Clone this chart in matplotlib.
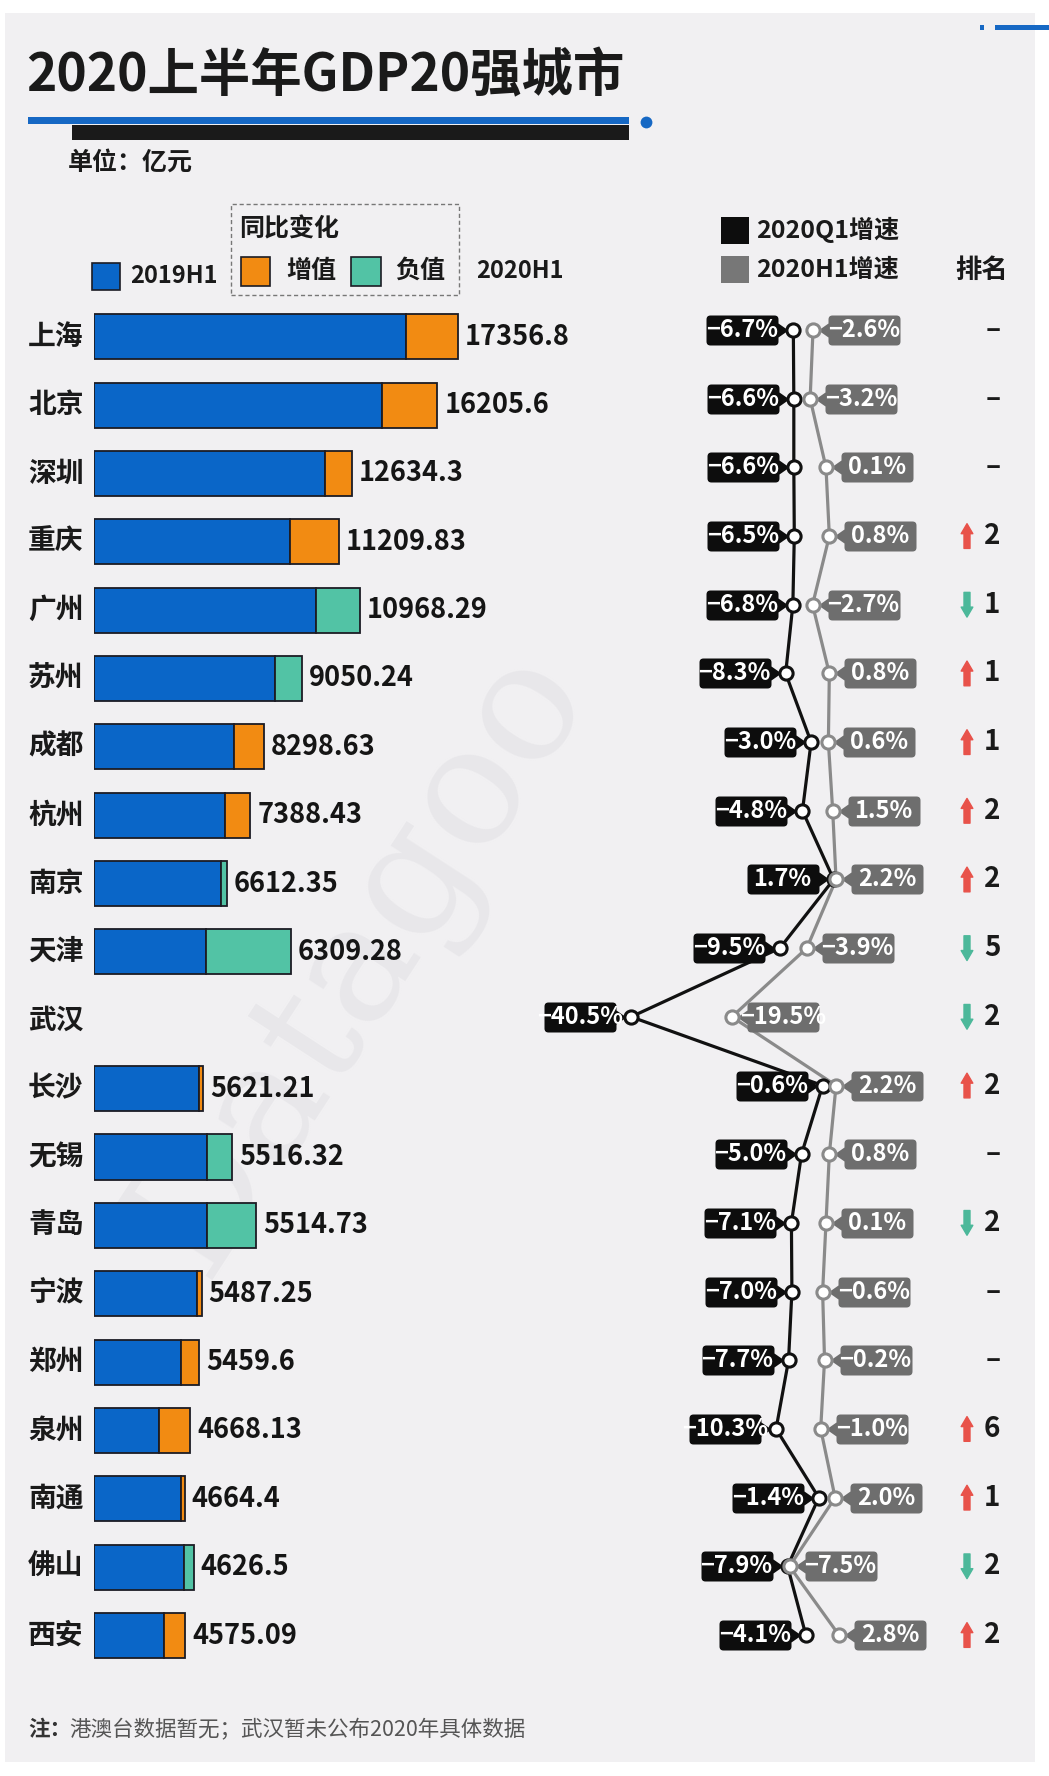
import numpy as np
import matplotlib.pyplot as plt
import matplotlib.transforms as mtransforms
from matplotlib.patches import Rectangle
from matplotlib.lines import Line2D
from matplotlib.path import Path

plt.rcParams['font.family'] = ['Noto Sans CJK SC', 'DejaVu Sans']

# ---- data ----
cities = ['上海', '北京', '深圳', '重庆', '广州', '苏州', '成都', '杭州', '南京', '天津',
          '武汉', '长沙', '无锡', '青岛', '宁波', '郑州', '泉州', '南通', '佛山', '西安']
gdp_2020h1 = [17356.8, 16205.6, 12634.3, 11209.83, 10968.29, 9050.24, 8298.63, 7388.43,
              6612.35, 6309.28, None, 5621.21, 5516.32, 5514.73, 5487.25, 5459.6,
              4668.13, 4664.4, 4626.5, 4575.09]
# bar lengths as drawn: blue part and year-on-year change (+ orange, - teal)
bar_blue = [14860, 13735, 10995, 9336, 10590, 8626, 6705, 6272, 6062, 5347,
            0, 5013, 5414, 5414, 4904, 4137, 3098, 4156, 4275, 3350]
bar_change = [2497, 2640, 1310, 2335, -2096, -1311, 1406, 1186, -270, -4051,
              0, 182, -1187, -2335, 238, 876, 1496, 171, -486, 1020]
q1_growth = [-6.7, -6.6, -6.6, -6.5, -6.8, -8.3, -3.0, -4.8, 1.7, -9.5,
             -40.5, -0.6, -5.0, -7.1, -7.0, -7.7, -10.3, -1.4, -7.9, -4.1]
h1_growth = [-2.6, -3.2, 0.1, 0.8, -2.7, 0.8, 0.6, 1.5, 2.2, -3.9,
             -19.5, 2.2, 0.8, 0.1, -0.6, -0.2, -1.0, 2.0, -7.5, 2.8]
rank_change = [0, 0, 0, 2, -1, 1, 1, 2, 2, -5, -2, 2, 0, -2, 0, 0, 6, 1, -2, 2]

BLUE = '#0a66c8'
ORANGE = '#f28b12'
TEAL = '#52c3a5'
EDGE = '#1c1c24'
BLACK = '#0d0d0d'
GREY_BOX = '#6e6e6e'
GREY_LINE = '#8a8a8a'
RED = '#e8524a'
GREEN = '#4cb89a'

W, H = 1049, 1776
fig = plt.figure(figsize=(W / 100, H / 100), dpi=100)
fig.patch.set_facecolor('white')


def fx(x):
    return x / W


def fy(y):
    return 1 - y / H


# background panel + watermark
fig.patches.append(Rectangle((fx(5), fy(1762)), 1030 / W, 1749 / H, transform=fig.transFigure,
                             facecolor='#f1f0f2', edgecolor='none', zorder=-2))
fig.text(fx(360), fy(960), 'Datagoo', rotation=57, fontsize=120, color='#e8e7ea',
         family='DejaVu Serif', ha='center', va='center', zorder=-1)

# ---- title block ----
fig.text(fx(26), fy(76), '2020上半年GDP20强城市', fontsize=37, fontweight='heavy',
         color='#1a1a1a', va='center')
fig.patches.append(Rectangle((fx(28), fy(124)), 601 / W, 7 / H, transform=fig.transFigure,
                             facecolor='#1668c4', edgecolor='none'))
fig.patches.append(Rectangle((fx(71.6), fy(140)), 557.4 / W, 15 / H, transform=fig.transFigure,
                             facecolor='#1a1a1a', edgecolor='none'))
fig.add_artist(Line2D([fx(645.5)], [fy(122.5)], marker='o', ms=8.5, color='#1668c4',
                      mew=0, transform=fig.transFigure))
fig.patches.append(Rectangle((fx(980), fy(30)), 4 / W, 5 / H, transform=fig.transFigure,
                             facecolor='#1668c4', edgecolor='none'))
fig.patches.append(Rectangle((fx(995), fy(30)), 54 / W, 5 / H, transform=fig.transFigure,
                             facecolor='#1668c4', edgecolor='none'))
fig.text(fx(68), fy(163), '单位：亿元', fontsize=18, fontweight='bold', color='#1a1a1a', va='center')

# ---- legend ----
def legend_box(x, y, w, h, color, edge=None):
    fig.patches.append(Rectangle((fx(x), fy(y + h)), w / W, h / H, transform=fig.transFigure,
                                 facecolor=color, edgecolor=edge or 'none', lw=1.2))


legend_box(91.6, 263, 28.5, 27, BLUE, EDGE)
fig.text(fx(130), fy(276), '2019H1', fontsize=17, fontweight='bold', color='#1a1a1a', va='center')
fig.patches.append(Rectangle((fx(231), fy(295)), 228 / W, 91 / H, transform=fig.transFigure,
                             facecolor='none', edgecolor='#777777', lw=1, ls=(0, (3, 2))))
fig.text(fx(239), fy(229), '同比变化', fontsize=18, fontweight='bold', color='#1a1a1a', va='center')
legend_box(241, 257, 28.6, 29, ORANGE, EDGE)
fig.text(fx(286), fy(271), '增值', fontsize=18, fontweight='bold', color='#1a1a1a', va='center')
legend_box(351, 257, 30, 29, TEAL, EDGE)
fig.text(fx(395), fy(271), '负值', fontsize=18, fontweight='bold', color='#1a1a1a', va='center')
fig.text(fx(476), fy(271), '2020H1', fontsize=17, fontweight='bold', color='#1a1a1a', va='center')
legend_box(721, 217, 28, 27, BLACK)
fig.text(fx(756), fy(230), '2020Q1增速', fontsize=18, fontweight='bold', color='#1a1a1a', va='center')
legend_box(721, 256, 28, 27, '#777777')
fig.text(fx(756), fy(270), '2020H1增速', fontsize=18, fontweight='bold', color='#1a1a1a', va='center')
fig.text(fx(955), fy(270), '排名', fontsize=19, fontweight='bold', color='#1a1a1a', va='center')

# ---- bar panel ----
n = len(cities)
rows = np.arange(n)
row_gap_bar = 68.36
bar_top = 336.7 - row_gap_bar / 2
ax_bar = fig.add_axes([fx(93.8), fy(bar_top + n * row_gap_bar), 450 / W, n * row_gap_bar / H])
ax_bar.set_xlim(0, 450 / 0.020983)
ax_bar.set_ylim(n - 0.5, -0.5)
ax_bar.axis('off')

blue = np.array(bar_blue, dtype=float)
chg = np.array(bar_change, dtype=float)
has_bar = blue > 0
ax_bar.barh(rows[has_bar], blue[has_bar], height=0.66, color=BLUE, edgecolor=EDGE, lw=1.3)
ax_bar.barh(rows[has_bar], np.abs(chg[has_bar]), left=blue[has_bar], height=0.66,
            color=[ORANGE if c > 0 else TEAL for c in chg[has_bar]], edgecolor=EDGE, lw=1.3)

name_tr = mtransforms.blended_transform_factory(fig.transFigure, ax_bar.transData)
for i, name in enumerate(cities):
    ax_bar.text(fx(28), i, name, transform=name_tr, fontsize=20, fontweight='bold',
                color='#1a1a1a', va='center', ha='left')
    if gdp_2020h1[i] is not None:
        ax_bar.annotate(f'{gdp_2020h1[i]}', (blue[i] + abs(chg[i]), i), xytext=(5, 0),
                        textcoords='offset points', va='center', ha='left',
                        fontsize=19.5, fontweight='bold', color='#151515')

# ---- growth lines ----
row_gap_line = (1635 - 330) / 19
zero_px, px_per_pct = 825.5, 4.8
ax_line = fig.add_axes([fx(500), fy(330 - row_gap_line / 2 + n * row_gap_line), 500 / W,
                        n * row_gap_line / H])
ax_line.set_xlim((500 - zero_px) / px_per_pct, (1000 - zero_px) / px_per_pct)
ax_line.set_ylim(n - 0.5, -0.5)
ax_line.axis('off')


def tag_path(side):
    # rounded price-tag shape, pixels relative to the point; box 72x30 px
    r = 4
    pts = [((15, -7), Path.MOVETO), ((15, -15 + r), Path.LINETO),
           ((15, -15), Path.CURVE3), ((15 + r, -15), Path.CURVE3),
           ((87 - r, -15), Path.LINETO),
           ((87, -15), Path.CURVE3), ((87, -15 + r), Path.CURVE3),
           ((87, 15 - r), Path.LINETO),
           ((87, 15), Path.CURVE3), ((87 - r, 15), Path.CURVE3),
           ((15 + r, 15), Path.LINETO),
           ((15, 15), Path.CURVE3), ((15, 15 - r), Path.CURVE3),
           ((15, 7), Path.LINETO), ((5, 0), Path.LINETO), ((15, -7), Path.LINETO),
           ((15, -7), Path.CLOSEPOLY)]
    verts = [(side * x, y) for (x, y), _ in pts]
    codes = [c for _, c in pts]
    return Path(verts, codes)


tag_ms = 2 * 87 * 0.72  # marker size in points (path normalised by its max extent)

ax_line.plot(q1_growth, rows, color='#111111', lw=2.3, zorder=2)
ax_line.plot(h1_growth, rows, color=GREY_LINE, lw=2.3, zorder=2)
ax_line.plot(q1_growth, rows, ls='none', marker=tag_path(-1), ms=tag_ms, color=BLACK, mew=0, zorder=3)
ax_line.plot(h1_growth, rows, ls='none', marker=tag_path(1), ms=tag_ms, color=GREY_BOX, mew=0, zorder=3)
ax_line.plot(q1_growth, rows, ls='none', marker='o', ms=9.5, mfc='white', mec='#111111', mew=2.2, zorder=4)
ax_line.plot(h1_growth, rows, ls='none', marker='o', ms=9.5, mfc='white', mec=GREY_LINE, mew=2.2, zorder=4)

for i in range(n):
    for v, dx in ((q1_growth[i], -51), (h1_growth[i], 51)):
        ax_line.annotate(f'{v:.1f}%'.replace('-', '−'), (v, i), xytext=(dx * 0.72, 0),
                         textcoords='offset points', ha='center', va='center',
                         color='white', fontsize=17, fontweight='bold', zorder=5)

# ---- rank change column ----
rank_tr = mtransforms.blended_transform_factory(ax_line.transAxes, ax_line.transData)
for i, rc in enumerate(rank_change):
    if rc == 0:
        ax_line.text(0.986, i, '–', transform=rank_tr, ha='center', va='center',
                     fontsize=20, fontweight='bold', color='#1a1a1a')
        continue
    up = rc > 0
    y0, y1 = (i + 0.18, i - 0.18) if up else (i - 0.18, i + 0.18)
    ax_line.annotate('', xy=(0.934, y1), xytext=(0.934, y0), xycoords=rank_tr, textcoords=rank_tr,
                     arrowprops=dict(arrowstyle='simple,head_length=0.6,head_width=0.7,tail_width=0.36',
                                     mutation_scale=12, color=RED if up else GREEN,
                                     shrinkA=0, shrinkB=0))
    ax_line.text(0.984, i, str(abs(rc)), transform=rank_tr, ha='center', va='center',
                 fontsize=20, fontweight='bold', color='#1a1a1a')

# ---- footnote ----
fig.text(fx(28), fy(1730), '注：', fontsize=15.5, fontweight='bold', color='#333333', va='center')
fig.text(fx(69), fy(1730), '港澳台数据暂无；武汉暂未公布2020年具体数据', fontsize=15.5,
         color='#555555', va='center')

fig.savefig('out.png', dpi=100, facecolor='white')
